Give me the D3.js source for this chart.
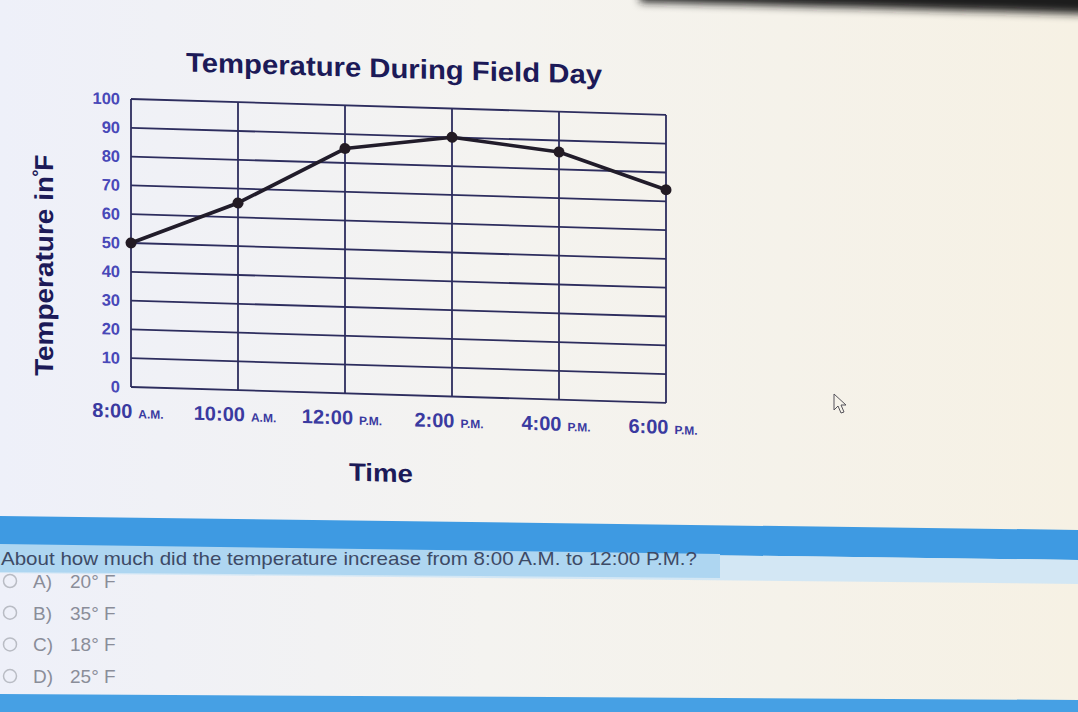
<!DOCTYPE html>
<html>
<head>
<meta charset="utf-8">
<script src="https://cdn.jsdelivr.net/npm/d3@7"></script>
<style>
  html, body { margin: 0; padding: 0; }
  body { width: 1078px; height: 712px; overflow: hidden; }
  svg { display: block; }
</style>
</head>
<body>
<svg id="chart" width="1078" height="712"></svg>
<script>
// ---- data ----
const categories = ["8:00 A.M.", "10:00 A.M.", "12:00 P.M.", "2:00 P.M.", "4:00 P.M.", "6:00 P.M."];
const timeLabels = ["8:00", "10:00", "12:00", "2:00", "4:00", "6:00"];
const periodLabels = ["A.M.", "A.M.", "P.M.", "P.M.", "P.M.", "P.M."];
const temperatures = [50, 65, 85, 90, 86, 74];
const yTicks = [0, 10, 20, 30, 40, 50, 60, 70, 80, 90, 100];
const chartTitle = "Temperature During Field Day";
const xTitle = "Time";
const yTitleMain = "Temperature in";
const yTitleDeg = "°";
const yTitleUnit = "F";
const question = "About how much did the temperature increase from 8:00 A.M. to 12:00 P.M.?";
const optionLetters = ["A)", "B)", "C)", "D)"];
const optionValues = ["20° F", "35° F", "18° F", "25° F"];

const svg = d3.select("#chart");
const W = 1078, H = 712;
const FONT = "Liberation Sans, Arial, sans-serif";

// ---- background (photo of a screen) ----
const defs = svg.append("defs");
const bg = defs.append("linearGradient").attr("id", "bg").attr("x1", "0").attr("x2", "1").attr("y1", "0").attr("y2", "0");
bg.append("stop").attr("offset", "0").attr("stop-color", "#eef0f9");
bg.append("stop").attr("offset", "0.45").attr("stop-color", "#f4f3f0");
bg.append("stop").attr("offset", "1").attr("stop-color", "#f6f1e4");
const blur = defs.append("filter").attr("id", "blur").attr("x", "-20%").attr("y", "-200%").attr("width", "140%").attr("height", "500%");
blur.append("feGaussianBlur").attr("stdDeviation", 4);

svg.append("rect").attr("width", W).attr("height", H).attr("fill", "url(#bg)");
// dark bezel at top right
svg.append("path")
  .attr("d", "M640,-10 L1090,-10 L1090,14 C950,10 800,6 640,2 Z")
  .attr("fill", "#1d1a1c").attr("filter", "url(#blur)");

// ---- question area ----
svg.append("path").attr("d", "M-5,516 L1085,530 L1085,560 L-5,546 Z").attr("fill", "#3e9ae2");
svg.append("path").attr("d", "M-5,546 L1085,560 L1085,584 L-5,573 Z").attr("fill", "#cfe6f5").attr("opacity", 0.9);
svg.append("path").attr("d", "M-5,544 L720,554 L720,578 L-5,572 Z").attr("fill", "#aed6f1");
svg.append("path").attr("d", "M-5,694 L1085,700 L1085,720 L-5,720 Z").attr("fill", "#46a0e4");

svg.append("text").attr("x", 1).attr("y", 565)
  .attr("font-family", FONT).attr("font-size", 19)
  .attr("fill", "#3d4a66").attr("textLength", 696).attr("lengthAdjust", "spacingAndGlyphs")
  .text(question);

const opt = svg.append("g").attr("font-family", FONT).attr("font-size", 19).attr("fill", "#8a8d99");
optionLetters.forEach((l, i) => {
  const cy = 581 + i * 31.7;
  opt.append("circle").attr("cx", 10).attr("cy", cy).attr("r", 6.5).attr("fill", "none").attr("stroke", "#b9bcc4").attr("stroke-width", 1.5);
  opt.append("text").attr("x", 33).attr("y", cy + 7).text(l);
  opt.append("text").attr("x", 70).attr("y", cy + 7).text(optionValues[i]);
});

// ---- chart (slightly skewed like the photo) ----
const g = svg.append("g").attr("transform", "translate(131,0) skewY(1.7) translate(-131,0)");

const x = d3.scalePoint().domain(categories).range([131, 666]);
const y = d3.scaleLinear().domain([0, 100]).range([387, 99]);

const gridColor = "#2d2d5e";
// horizontal grid
g.append("g").selectAll("line").data(yTicks).join("line")
  .attr("x1", x.range()[0]).attr("x2", x.range()[1])
  .attr("y1", d => y(d)).attr("y2", d => y(d))
  .attr("stroke", gridColor).attr("stroke-width", 1.8);
// vertical grid
g.append("g").selectAll("line").data(categories).join("line")
  .attr("x1", d => x(d)).attr("x2", d => x(d))
  .attr("y1", y(0)).attr("y2", y(100))
  .attr("stroke", gridColor).attr("stroke-width", 1.8);

// y tick labels via axis
const yAxis = g.append("g").attr("transform", `translate(${x.range()[0]},0)`)
  .call(d3.axisLeft(y).tickValues(yTicks).tickSize(0).tickPadding(11));
yAxis.select(".domain").remove();
yAxis.selectAll("text")
  .attr("font-family", FONT).attr("font-size", 16.5).attr("font-weight", "bold")
  .attr("fill", "#4848b8");

// x tick labels
const xl = g.append("g").selectAll("text").data(categories).join("text")
  .attr("x", d => x(d) - 3).attr("y", 418)
  .attr("text-anchor", "middle")
  .attr("font-family", FONT).attr("font-weight", "bold")
  .attr("fill", "#3a3aa0");
xl.append("tspan").attr("font-size", 20).text((d, i) => timeLabels[i]);
xl.append("tspan").attr("font-size", 12).attr("dx", 6).text((d, i) => periodLabels[i]);

// data line
const line = d3.line().x((d, i) => x(categories[i])).y(d => y(d));
g.append("path").datum(temperatures).attr("d", line)
  .attr("fill", "none").attr("stroke", "#211c2a").attr("stroke-width", 3.6).attr("stroke-linejoin", "round");
g.append("g").selectAll("circle").data(temperatures).join("circle")
  .attr("cx", (d, i) => x(categories[i])).attr("cy", d => y(d)).attr("r", 5.5)
  .attr("fill", "#231b24");

// titles
g.append("text").attr("x", 394).attr("y", 70).attr("text-anchor", "middle")
  .attr("font-family", FONT).attr("font-size", 27).attr("font-weight", "bold")
  .attr("textLength", 416).attr("lengthAdjust", "spacingAndGlyphs")
  .attr("fill", "#1c1a58").text(chartTitle);
g.append("text").attr("x", 381).attr("y", 474).attr("text-anchor", "middle")
  .attr("font-family", FONT).attr("font-size", 25).attr("font-weight", "bold")
  .attr("textLength", 64).attr("lengthAdjust", "spacingAndGlyphs")
  .attr("fill", "#1c1a58").text(xTitle);
const yt = g.append("text").attr("transform", "translate(53,268) rotate(-90)").attr("text-anchor", "middle")
  .attr("font-family", FONT).attr("font-size", 26).attr("font-weight", "bold")
  .attr("fill", "#1c1a58");
yt.append("tspan").attr("textLength", 200).attr("lengthAdjust", "spacingAndGlyphs").text(yTitleMain);
yt.append("tspan").attr("font-size", 18).attr("dy", -8).attr("dx", -1).text(yTitleDeg);
yt.append("tspan").attr("dy", 8).attr("dx", -1).text(yTitleUnit);

// mouse cursor
svg.append("path").attr("d", "M834,394 L834,410 L838,406 L841,413 L844,412 L841,405 L846,405 Z")
  .attr("fill", "#f6f3ea").attr("stroke", "#55535a").attr("stroke-width", 1);
</script>
</body>
</html>
